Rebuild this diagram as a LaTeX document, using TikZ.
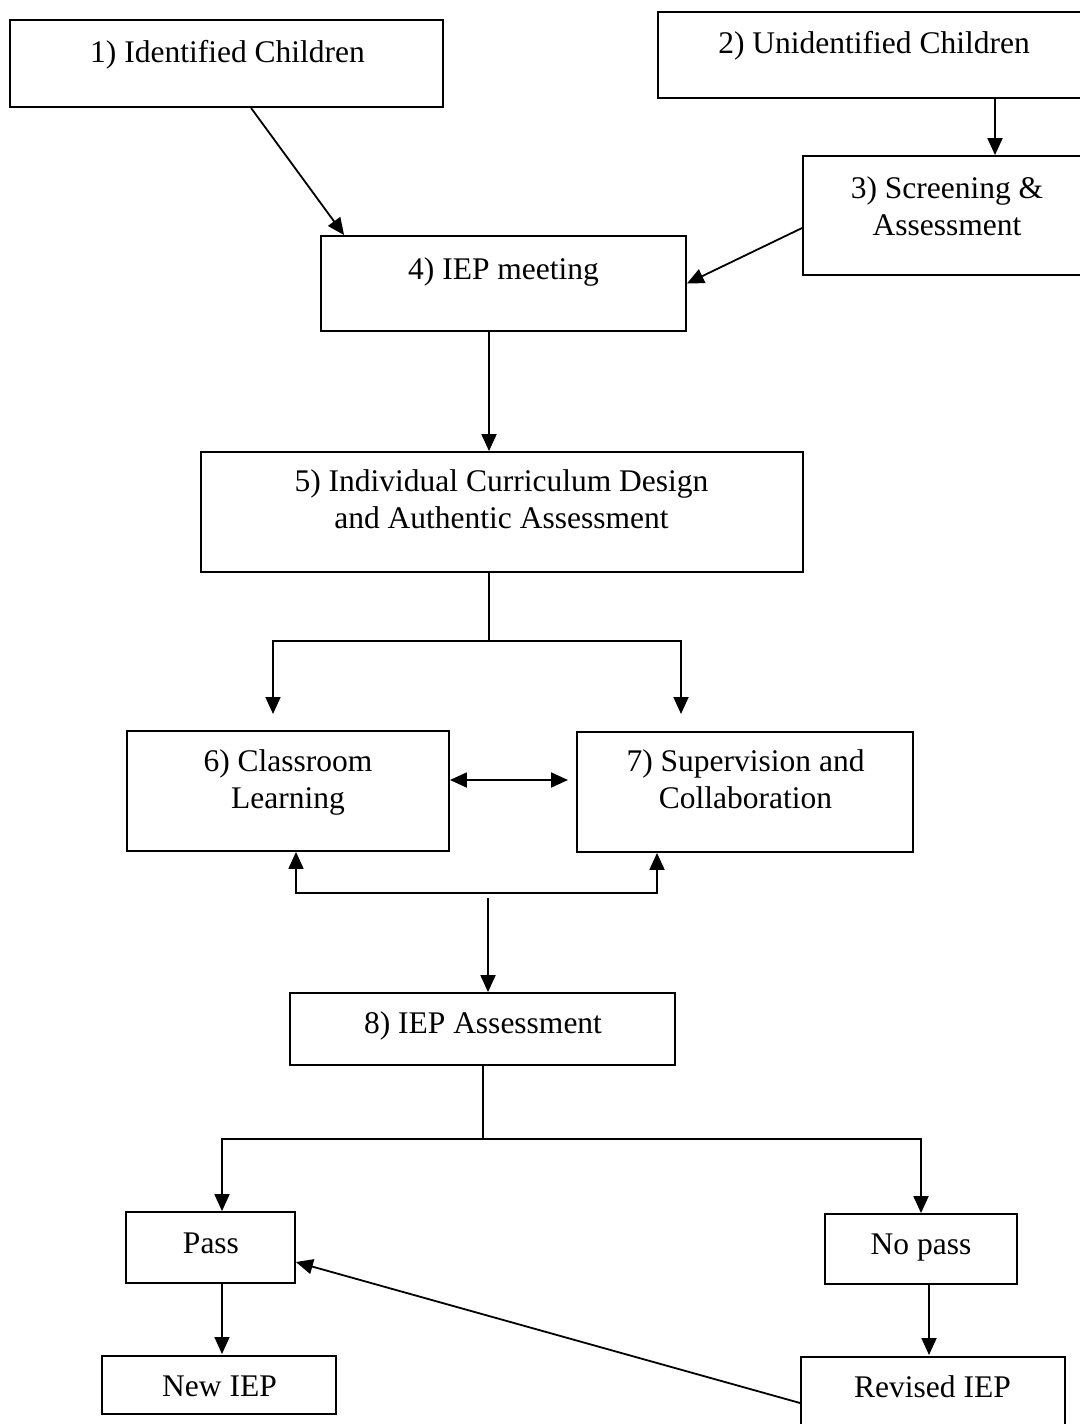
\documentclass[tikz,border=0pt]{standalone}
\usepackage{fontspec}
\setmainfont{Liberation Serif}
\usetikzlibrary{arrows.meta}
% two centred lines whose first baseline is the node's base
\newcommand\twolines[2]{\begin{tabular}[t]{@{}c@{}}#1\\#2\end{tabular}}

\begin{document}
\begin{tikzpicture}[x=1pt,y=-1pt,
  box/.style={draw, line width=1.8pt, inner sep=0pt},
  lbl/.style={anchor=base, inner sep=0pt, font=\fontsize{31.5}{37.5}\selectfont},
  link/.style={line width=1.8pt},
  tip/.tip={Triangle[width=15pt,length=17pt]},
  arr/.style={link, -tip},
  dbl/.style={link, tip-tip},
]
\useasboundingbox[fill=white] (0,0) rectangle (1079,1424);

% ---- boxes ----
\node[box, minimum width=433pt, minimum height=87pt]  (b1)     at (226.5,63.5)  {};
\node[box, minimum width=424pt, minimum height=86pt]  (b2)     at (870,55)      {};
\node[box, minimum width=279pt, minimum height=119pt] (b3)     at (942.5,215.5) {};
\node[box, minimum width=365pt, minimum height=95pt]  (b4)     at (503.5,283.5) {};
\node[box, minimum width=602pt, minimum height=120pt] (b5)     at (502,512)     {};
\node[box, minimum width=322pt, minimum height=120pt] (b6)     at (288,791)     {};
\node[box, minimum width=336pt, minimum height=120pt] (b7)     at (745,792)     {};
\node[box, minimum width=385pt, minimum height=72pt]  (b8)     at (482.5,1029)  {};
\node[box, minimum width=169pt, minimum height=71pt]  (pass)   at (210.5,1247.5){};
\node[box, minimum width=192pt, minimum height=70pt]  (nopass) at (921,1249)    {};
\node[box, minimum width=234pt, minimum height=58pt]  (newiep) at (219,1385)    {};
\node[box, minimum width=264pt, minimum height=73pt]  (reviep) at (933,1393.5)  {};

% ---- labels ----
\node[lbl] (l1) at (227.5,62)  {1) Identified Children};
\node[lbl] (l2) at (874,53)    {2) Unidentified Children};
\node[lbl] (l3) at (947,198)   {\twolines{3) Screening \&}{Assessment}};
\node[lbl] (l4) at (503.5,279) {4) IEP meeting};
\node[lbl] (l5) at (501.5,491) {\twolines{5) Individual Curriculum Design}{and Authentic Assessment}};
\node[lbl] (l6) at (288,771)   {\twolines{6) Classroom}{Learning}};
\node[lbl] (l7) at (745.5,771) {\twolines{7) Supervision and}{Collaboration}};
\node[lbl] (l8) at (483,1033)  {8) IEP Assessment};
\node[lbl] (lp) at (211,1253)  {Pass};
\node[lbl] (ln) at (921,1254)  {No pass};
\node[lbl] (le) at (219.5,1396){New IEP};
\node[lbl] (lr) at (932.5,1397){Revised IEP};

% ---- routing points ----
\coordinate (v23) at (995,0);
\coordinate (v45) at (489,0);
\coordinate (s5)  at (489,641);
\coordinate (t6)  at (273,714);
\coordinate (t7)  at (681,714);
\coordinate (h67) at (0,780);
\coordinate (t67) at (568,780);
\coordinate (m6)  at (296,893);
\coordinate (m7)  at (657,893);
\coordinate (s8)  at (488,898);
\coordinate (s9)  at (483,1139);
\coordinate (tp)  at (222,0);
\coordinate (tn)  at (921,0);
\coordinate (tr)  at (929,0);
\coordinate (te)  at (222,1354);
\coordinate (tv)  at (929,1355);

% ---- connectors ----
\draw[arr] ([xshift=24.5pt]b1.south) -- ([xshift=24pt]b4.north west);
\draw[arr] (b2.south -| v23) -- (b3.north -| v23);
\draw[arr] ([yshift=-12.5pt]b3.west) -- (b4.east);
\draw[arr] (b4.south -| v45) -- (b5.north -| v45);

\draw[link] (b5.south -| s5) -- (s5);
\draw[arr] (s5) -| (t6);
\draw[arr] (s5) -| (t7);

\draw[dbl] (b6.east |- h67) -- (t67);

\draw[arr] (m7) -| (b6.south -| m6);
\draw[arr] (m6) -| (b7.south -| m7);
\draw[arr] (s8) -- (b8.north -| s8);

\draw[link] (b8.south -| s9) -- (s9);
\draw[arr] (s9) -| (pass.north -| tp);
\draw[arr] (s9) -| (nopass.north -| tn);

\draw[arr] (pass.south -| tp) -- (te);
\draw[arr] (nopass.south -| tr) -- (tv);
\draw[arr] ([yshift=-9.5pt]reviep.west) -- ([yshift=-14.5pt]pass.east);
\end{tikzpicture}
\end{document}
